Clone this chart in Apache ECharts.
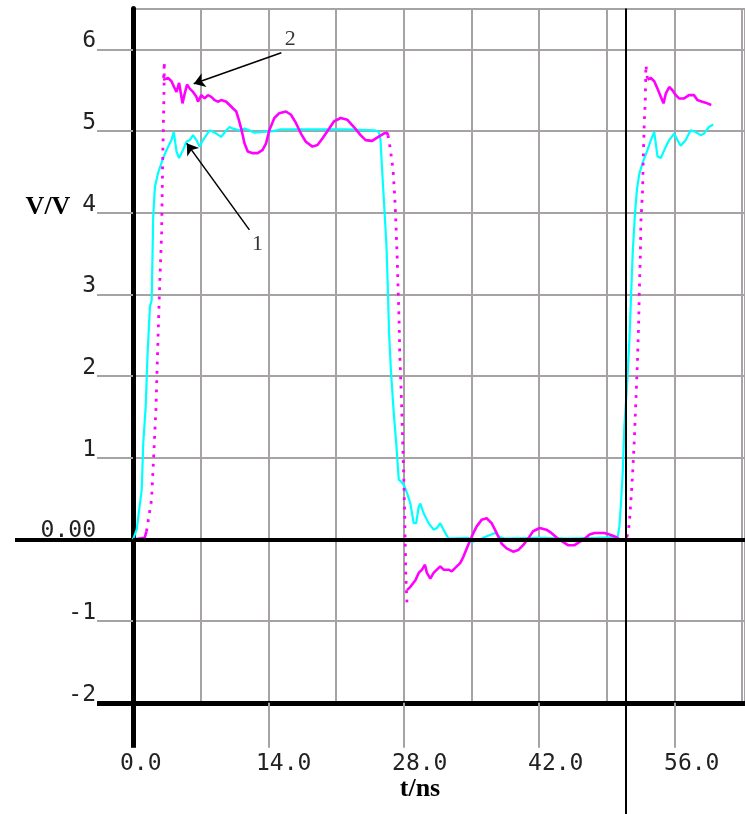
<!DOCTYPE html>
<html><head><meta charset="utf-8">
<script src="https://cdn.jsdelivr.net/npm/echarts@6/dist/echarts.min.js"></script>
<style>html,body{margin:0;padding:0;background:#fff}#c{width:745px;height:814px}</style>
</head><body><div id="c"></div><script>
// ---- axis ticks / labels ----
const xTickValues = [0, 14, 28, 42, 56];
const xTickLabels = ['0.0', '14.0', '28.0', '42.0', '56.0'];
const yTickValues = [-2, -1, 0, 1, 2, 3, 4, 5, 6];
const yTickLabels = ['-2', '-1', '0.00', '1', '2', '3', '4', '5', '6'];
const cursorX = 51.0;

// ---- curve 1 (cyan) [t/ns, V] ----
const cyanPoints = [
 [0,0],[0.38,0.12],[0.90,0.61],[1.06,1.18],[1.31,1.62],[1.51,2.28],[1.75,2.85],[1.93,2.93],
 [2.09,3.95],[2.27,4.32],[2.60,4.49],[3.12,4.67],[3.47,4.77],[3.98,4.89],[4.22,4.99],
 [4.50,4.75],[4.77,4.67],[5.18,4.77],[5.53,4.87],[5.87,4.89],[6.21,4.95],[6.56,4.89],
 [6.90,4.81],[7.24,4.89],[7.59,4.95],[7.93,5.01],[8.62,4.97],[9.13,4.93],[9.65,5.01],
 [9.99,5.05],[10.33,5.03],[11.01,5.01],[11.53,5.03],[12.04,5.01],[12.56,4.98],[13.41,4.99],
 [14.5,5.0],[15.2,5.02],[18,5.02],[22,5.02],[25.0,5.01],[25.43,4.99],
 [25.6,4.89],[25.77,4.52],[26.01,4.03],[26.22,3.59],[26.35,3.10],[26.49,2.52],[26.69,2.04],
 [26.97,1.55],[27.25,1.14],[27.49,0.73],[27.72,0.71],[28.0,0.67],[28.34,0.57],[28.69,0.44],
 [29.03,0.20],[29.29,0.20],[29.55,0.40],[29.72,0.44],[30.06,0.32],[30.57,0.20],[31.09,0.12],
 [31.43,0.14],[31.78,0.20],[32.12,0.12],[32.63,0.01],[34.69,0.02],[35.03,-0.03],[35.72,-0.01],
 [36.41,0.03],[37.44,0.08],[37.96,0.03],[38.47,0.01],[42,0.02],[45,0.01],[48,0.02],[50.13,0.03],
 [50.31,0.16],[50.47,0.44],[50.65,0.81],[50.82,1.38],[51.09,1.87],[51.34,2.44],[51.50,2.93],
 [51.68,3.50],[51.92,3.99],[52.12,4.28],[52.37,4.48],[52.71,4.61],[53.22,4.77],[53.56,4.89],
 [53.91,4.99],[54.25,4.69],[54.59,4.67],[55.11,4.81],[55.46,4.89],[55.97,4.97],[56.31,4.89],
 [56.65,4.82],[57.17,4.89],[57.68,5.01],[58.19,4.99],[58.71,4.95],[59.06,4.97],[59.57,5.05],
 [60.02,5.08]
];

// ---- curve 2 (magenta) solid parts and sampled edges ----
const magentaStart = [[0,0],[1.2,0.02],[1.4,0.1]];
const magentaEdge1 = [[1.4,0.1],[1.92,0.49],[2.16,1.07],[2.37,1.59],[2.5,2.12],[2.71,2.94],
 [2.96,3.76],[3.06,4.57],[3.19,5.39],[3.25,5.85],[3.15,5.63]];
const magentaHigh1 = [
 [3.12,5.63],[3.63,5.65],[3.98,5.61],[4.25,5.54],[4.50,5.48],[4.77,5.59],[5.12,5.34],[5.35,5.46],
 [5.59,5.57],[5.87,5.52],[6.21,5.48],[6.56,5.42],[6.72,5.36],[7.07,5.44],[7.41,5.40],[7.75,5.44],
 [8.10,5.42],[8.44,5.38],[8.78,5.36],[9.13,5.38],[9.65,5.36],[9.99,5.32],[10.33,5.28],[10.68,5.24],
 [10.94,5.14],[11.19,5.03],[11.35,4.95],[11.53,4.85],[11.87,4.75],[12.38,4.73],[12.90,4.73],
 [13.41,4.77],[13.76,4.85],[14.10,5.01],[14.62,5.16],[15.13,5.22],[15.82,5.24],[16.34,5.20],
 [16.85,5.10],[17.37,4.97],[17.88,4.87],[18.56,4.81],[19.08,4.83],[19.59,4.91],[20.28,5.03],
 [20.79,5.12],[21.48,5.16],[22.16,5.14],[22.85,5.05],[23.54,4.95],[24.06,4.89],[24.74,4.88],
 [25.25,4.92],[25.94,4.97],[26.28,4.98],[26.38,4.95]
];
const magentaEdge2 = [[26.38,4.95],[26.63,4.77],[26.90,4.52],[27.07,4.20],[27.18,3.91],[27.31,3.50],
 [27.41,3.10],[27.52,2.69],[27.59,2.28],[27.72,1.87],[27.83,1.46],[27.93,1.06],[28.03,0.65],
 [28.10,0.32],[28.17,-0.13],[28.21,-0.41],[28.28,-0.62],[28.34,-0.78]];
const magentaLow = [
 [28.34,-0.62],[28.69,-0.58],[29.21,-0.50],[29.55,-0.41],[29.89,-0.37],[30.20,-0.31],[30.40,-0.41],
 [30.75,-0.48],[31.09,-0.41],[31.43,-0.37],[31.78,-0.33],[32.12,-0.37],[32.63,-0.37],[32.97,-0.39],
 [33.49,-0.33],[33.84,-0.29],[34.18,-0.21],[34.52,-0.11],[34.87,-0.01],[35.21,0.08],[35.55,0.16],
 [36.06,0.24],[36.58,0.26],[37.09,0.20],[37.61,0.08],[38.12,-0.05],[38.64,-0.11],[39.32,-0.15],
 [39.84,-0.13],[40.35,-0.07],[40.87,0.01],[41.38,0.10],[42.07,0.14],[42.75,0.12],[43.27,0.08],
 [43.96,0.01],[44.47,-0.03],[44.99,-0.07],[45.68,-0.07],[46.19,-0.03],[46.71,0.01],[47.22,0.06],
 [47.74,0.08],[48.25,0.08],[48.76,0.08],[49.28,0.06],[49.96,0.03],[50.47,-0.01],[50.88,-0.01],
 [51.09,0.03]
];
const magentaEdge3 = [[51.09,0.03],[51.24,0.12],[51.34,0.20],[51.50,0.48],[51.68,0.81],[51.85,1.22],
 [52.02,1.71],[52.19,2.23],[52.30,2.65],[52.37,3.05],[52.47,3.46],[52.53,3.88],[52.71,4.28],
 [52.78,4.68],[52.88,5.10],[52.99,5.38],[53.05,5.81],[53.22,5.63]];
const magentaHigh2 = [
 [53.22,5.63],[53.56,5.65],[53.91,5.61],[54.25,5.52],[54.59,5.42],[54.87,5.34],[55.11,5.46],
 [55.46,5.54],[55.80,5.50],[56.14,5.44],[56.48,5.40],[57.00,5.40],[57.51,5.44],[58.03,5.44],
 [58.37,5.38],[58.88,5.36],[59.40,5.34],[59.81,5.32]
];

// ---- annotations ----
const arrowFrom = [[15.34,5.96],[12.04,3.79]];
const arrowTo = [[6.28,5.58],[5.56,4.85]];
const annotLabels = [[16.27,6.12,'2'],[12.87,3.61,'1']];

const CYAN = '#00ffff', MAG = '#ff00ff', GRIDC = '#a6a2a6';
const MONO = '"DejaVu Sans Mono", monospace';
const X_MAX = 63.3, Y_MIN = -2, Y_MAX = 6.5;
const G = {top: 8.6, height: 694.2, width: 615};

function tickAxisX(vals, color, width, len, extra) {
  return Object.assign({type:'value', gridIndex:0, min:0, max:X_MAX, position:'bottom',
    axisLine:{show:false, onZero:false}, splitLine:{show:false}, axisLabel:{show:false},
    axisTick:{show:true, customValues: vals, length: len, lineStyle:{color, width}}}, extra || {});
}
function tickAxisY(vals, color, width, len, extra) {
  return Object.assign({type:'value', gridIndex:0, min:Y_MIN, max:Y_MAX, position:'left',
    axisLine:{show:false, onZero:false}, splitLine:{show:false}, axisLabel:{show:false},
    axisTick:{show:true, customValues: vals, length: len, lineStyle:{color, width}}}, extra || {});
}

const chart = echarts.init(document.getElementById('c'), null, {renderer:'canvas'});
const magSolid = [magentaStart, magentaHigh1, magentaLow, magentaHigh2];
const magEdges = [magentaEdge1, magentaEdge2, magentaEdge3];

const series = [
  {type:'line', xAxisIndex:0, yAxisIndex:0, data:[], z:1, silent:true,
   markLine:{silent:true, symbol:['none','none'], label:{show:false}, animation:false,
     data:[{yAxis:0, lineStyle:{color:'#000', width:4, type:'solid'}},
           {xAxis:cursorX, lineStyle:{color:'#000', width:2, type:'solid'}}]}},
  {type:'line', xAxisIndex:0, yAxisIndex:0, data:cyanPoints, showSymbol:false, symbol:'none', z:3,
   sampling:null, lineStyle:{color:CYAN, width:2.2}, animation:false}
];
magSolid.forEach(d => series.push({type:'line', xAxisIndex:0, yAxisIndex:0, data:d, symbol:'none', z:4,
   lineStyle:{color:MAG, width:2.6}, animation:false}));
magEdges.forEach(d => series.push({type:'line', xAxisIndex:0, yAxisIndex:0, data:d, symbol:'none', z:4,
   lineStyle:{color:MAG, width:2.8, type:[2.8,6.5], cap:'butt'}, animation:false}));
series.push({type:'line', xAxisIndex:0, yAxisIndex:0, data:[], z:6, silent:true,
   markLine:{silent:true, symbol:['none','arrow'], symbolSize:11, label:{show:false}, animation:false,
     lineStyle:{color:'#000', width:1.5, type:'solid'},
     data: arrowFrom.map((f,i)=>[{coord:f},{coord:arrowTo[i]}])}});
series.push({type:'scatter', xAxisIndex:0, yAxisIndex:0, symbolSize:0, z:6, silent:true,
   data: annotLabels,
   label:{show:true, position:'inside', formatter:p=>p.value[2], color:'#000',
     fontFamily:'"Liberation Serif", serif', fontSize:22}});

chart.setOption({
  animation:false,
  backgroundColor:'#fff',
  grid:[{left:133, top:G.top, width:G.width, height:G.height},
        {left:120, top:G.top, width:G.width, height:G.height}],
  xAxis:[
    {type:'value', gridIndex:0, min:0, max:X_MAX, interval:7, position:'bottom',
     axisLine:{show:true, onZero:false, lineStyle:{color:'#000', width:5}},
     axisTick:{show:false}, axisLabel:{show:false},
     splitLine:{show:true, lineStyle:{color:GRIDC, width:2}}},
    tickAxisX([14,28,42,56], GRIDC, 2, 45),
    tickAxisX([0], '#000', 5, 45),
    tickAxisX([cursorX], '#000', 2, 112),
    {type:'value', gridIndex:1, min:0, max:X_MAX, position:'bottom',
     axisLine:{show:false, onZero:false}, axisTick:{show:false}, splitLine:{show:false},
     axisLabel:{show:true, customValues:xTickValues, align:'left', margin:50,
       formatter:v=>xTickLabels[xTickValues.indexOf(v)], color:'#222', fontFamily:MONO, fontSize:23}}
  ],
  yAxis:[
    {type:'value', gridIndex:0, min:Y_MIN, max:Y_MAX, interval:1, position:'left',
     axisLine:{show:true, onZero:false, lineStyle:{color:'#000', width:5}},
     axisTick:{show:false}, axisLabel:{show:false},
     splitLine:{show:true, lineStyle:{color:GRIDC, width:2}}},
    tickAxisY([-1,1,2,3,4,5,6], GRIDC, 2, 36, {axisLabel:{show:true, customValues:yTickValues,
       margin:37, verticalAlign:'bottom', lineHeight:16,
       formatter:v=>yTickLabels[yTickValues.indexOf(v)], color:'#222', fontFamily:MONO, fontSize:23}}),
    tickAxisY([0], '#000', 4, 118),
    tickAxisY([-2], '#000', 5, 36),
    {type:'value', gridIndex:1, min:Y_MIN, max:Y_MAX, show:false}
  ],
  graphic:[
    {type:'text', x:48, y:207, style:{text:'V/V', font:'bold 26px "Liberation Serif", serif',
      fill:'#000', align:'center', verticalAlign:'middle', textAlign:'center', textVerticalAlign:'middle'}},
    {type:'text', x:420, y:789, style:{text:'t/ns', font:'bold 26px "Liberation Serif", serif',
      fill:'#000', align:'center', verticalAlign:'middle', textAlign:'center', textVerticalAlign:'middle'}}
  ],
  series
});
</script></body></html>
